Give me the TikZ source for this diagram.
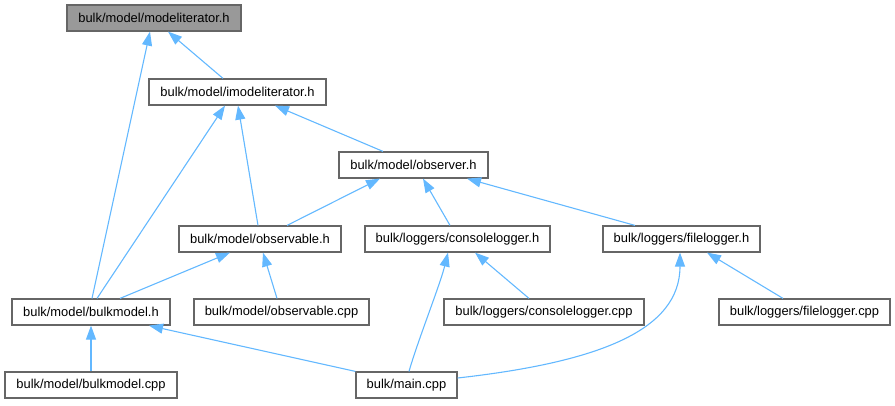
\documentclass[tikz,border=0pt]{standalone}
\usepackage{fontspec}
\setmainfont{Liberation Sans}
\usetikzlibrary{arrows.meta}
\definecolor{edgeblue}{HTML}{63B8FF}
\definecolor{boxborder}{HTML}{666666}
\definecolor{topfill}{HTML}{999999}
\begin{document}
\begin{tikzpicture}[x=1pt,y=-1pt,
  filebox/.style={draw=boxborder,line width=1.2pt,fill=white,rectangle,inner sep=0pt,
    minimum height=26pt,font=\fontsize{12.9}{15}\selectfont},
  edge/.style={draw=edgeblue,line width=1.1pt,-{Triangle[length=14pt,width=10pt]}}]
\useasboundingbox (0,0) rectangle (895,405);
\node[filebox,fill=topfill,minimum width=174pt] (mi) at (154,18) {bulk/model/modeliterator.h};
\node[filebox,minimum width=177pt] (imi) at (237.5,92) {bulk/model/imodeliterator.h};
\node[filebox,minimum width=149pt] (obs) at (413.5,165) {bulk/model/observer.h};
\node[filebox,minimum width=162pt] (oble) at (260,239) {bulk/model/observable.h};
\node[filebox,minimum width=185pt] (clh) at (457.5,239) {bulk/loggers/consolelogger.h};
\node[filebox,minimum width=157pt] (flh) at (681.5,239) {bulk/loggers/filelogger.h};
\node[filebox,minimum width=158pt] (bmh) at (91,312) {bulk/model/bulkmodel.h};
\node[filebox,minimum width=175pt] (oblecpp) at (281.5,312) {bulk/model/observable.cpp};
\node[filebox,minimum width=200pt] (clcpp) at (544,312) {bulk/loggers/consolelogger.cpp};
\node[filebox,minimum width=171pt] (flcpp) at (804.5,312) {bulk/loggers/filelogger.cpp};
\node[filebox,minimum width=172pt] (bmcpp) at (91,385) {bulk/model/bulkmodel.cpp};
\node[filebox,minimum width=101pt] (main) at (406.5,385) {bulk/main.cpp};

\draw[edge] ([xshift=1pt]bmh.north) -- ([xshift=-4pt]mi.south);
\draw[edge] ([xshift=-14.5pt]imi.north) -- ([xshift=14pt]mi.south);
\draw[edge] ([xshift=6pt]bmh.north) -- ([xshift=-12.5pt]imi.south);
\draw[edge] ([xshift=-2pt]oble.north) -- ([xshift=0.5pt]imi.south);
\draw[edge] ([xshift=-30.5pt]obs.north) -- ([xshift=37.5pt]imi.south);
\draw[edge] ([xshift=27pt]oble.north) -- ([xshift=-33.5pt]obs.south);
\draw[edge] ([xshift=-7.5pt]clh.north) -- ([xshift=9.5pt]obs.south);
\draw[edge] ([xshift=-46.5pt]flh.north) -- ([xshift=53.5pt]obs.south);
\draw[edge] ([xshift=29pt]bmh.north) -- ([xshift=-30pt]oble.south);
\draw[edge] ([xshift=-4.5pt]oblecpp.north) -- ([xshift=3pt]oble.south);
\draw[edge] ([xshift=2.5pt]main.north) .. controls (418,340) and (440,285) .. ([xshift=-9.5pt]clh.south);
\draw[edge] ([xshift=-15pt]clcpp.north) -- ([xshift=17.5pt]clh.south);
\draw[edge] ([yshift=7pt]main.east) .. controls (600,362) and (680,330) .. ([xshift=-1.5pt]flh.south);
\draw[edge] ([xshift=-21.5pt]flcpp.north) -- ([xshift=25.5pt]flh.south);
\draw[edge] (bmcpp.north) -- (bmh.south);
\draw[edge] (main.north west) -- ([xshift=58pt]bmh.south);
\end{tikzpicture}
\end{document}
